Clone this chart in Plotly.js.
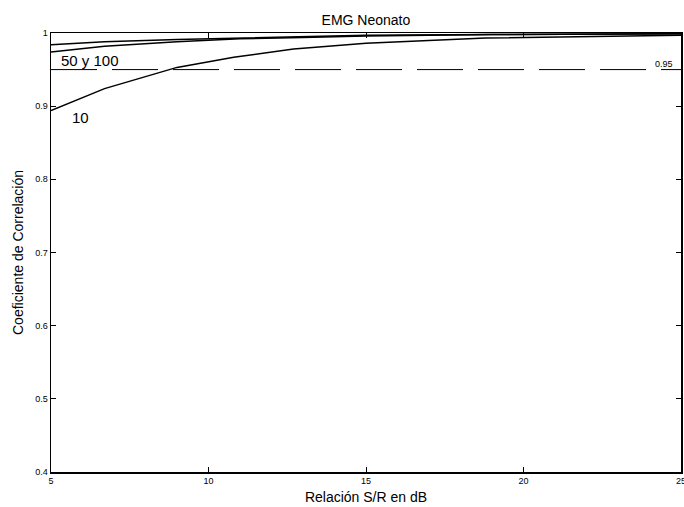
<!DOCTYPE html>
<html>
<head>
<meta charset="utf-8">
<script src="https://cdn.plot.ly/plotly-3.0.1.min.js"></script>
<style>html,body{margin:0;padding:0;background:#fff;}#chart{width:684px;height:507px;}</style>
</head>
<body>
<div id="chart"></div>
<script>
// S/R in dB
const snr10 = [5, 6.7, 9, 10.8, 12.7, 15, 18.8, 25];
const corr10 = [0.894, 0.924, 0.953, 0.967, 0.978, 0.986, 0.993, 0.997];
const snr50 = [5, 6.7, 9, 11, 13, 15, 19, 25];
const corr50 = [0.974, 0.982, 0.988, 0.992, 0.994, 0.996, 0.998, 0.999];
const snr100 = [5, 6.7, 9, 11, 13, 15, 19, 25];
const corr100 = [0.984, 0.988, 0.991, 0.993, 0.995, 0.997, 0.998, 0.999];
const thresholdX = [5, 25];
const thresholdY = [0.95, 0.95];
const xTicks = [5, 10, 15, 20, 25];
const yTicks = [0.4, 0.5, 0.6, 0.7, 0.8, 0.9, 1];

const lineStyle = {color: '#000', width: 1.5};
const traces = [
  {x: snr10, y: corr10, mode: 'lines', line: lineStyle, hoverinfo: 'skip'},
  {x: snr50, y: corr50, mode: 'lines', line: lineStyle, hoverinfo: 'skip'},
  {x: snr100, y: corr100, mode: 'lines', line: lineStyle, hoverinfo: 'skip'},
  {x: thresholdX, y: thresholdY, mode: 'lines', line: {color: '#000', width: 1, dash: '46px,15px'}, hoverinfo: 'skip'}
];

const font = {family: 'Liberation Sans, Arial, sans-serif', color: '#000'};
const layout = {
  width: 684, height: 507,
  margin: {l: 51, r: 3, t: 33, b: 35},
  paper_bgcolor: '#fff', plot_bgcolor: '#fff',
  showlegend: false,
  font: font,
  title: {text: 'EMG Neonato', font: {family: font.family, size: 14, color: '#000'}, x: 0.535, xanchor: 'center', y: 0.96, yanchor: 'middle'},
  xaxis: {
    range: [5, 25], tickvals: xTicks, ticktext: xTicks.map(String),
    ticks: 'inside', ticklen: 5, tickcolor: '#000', mirror: 'ticks',
    showline: true, linecolor: '#000', linewidth: 1.5, showgrid: false, zeroline: false,
    ticklabeloverflow: 'allow',
    tickfont: {family: font.family, size: 9, color: '#000'},
    title: {text: 'Relación S/R en dB', font: {family: font.family, size: 14, color: '#000'}, standoff: 7}
  },
  yaxis: {
    range: [0.4, 1], tickvals: yTicks, ticktext: yTicks.map(String),
    ticks: 'inside', ticklen: 5, tickcolor: '#000', mirror: 'ticks',
    showline: true, linecolor: '#000', linewidth: 1.5, showgrid: false, zeroline: false,
    ticklabeloverflow: 'allow',
    tickfont: {family: font.family, size: 9, color: '#000'},
    title: {text: 'Coeficiente de Correlación', font: {family: font.family, size: 14, color: '#000'}, standoff: 8}
  },
  annotations: [
    {x: 5.25, y: 0.963, xref: 'x', yref: 'y', text: '50 y 100', showarrow: false, xanchor: 'left', yanchor: 'middle', font: {family: font.family, size: 15, color: '#000'}},
    {x: 5.6, y: 0.885, xref: 'x', yref: 'y', text: '10', showarrow: false, xanchor: 'left', yanchor: 'middle', font: {family: font.family, size: 15, color: '#000'}},
    {x: 24.8, y: 0.957, xref: 'x', yref: 'y', text: '0.95', showarrow: false, xanchor: 'right', yanchor: 'middle', font: {family: font.family, size: 9, color: '#000'}}
  ]
};

Plotly.newPlot('chart', traces, layout, {staticPlot: true, displayModeBar: false});
</script>
</body>
</html>
